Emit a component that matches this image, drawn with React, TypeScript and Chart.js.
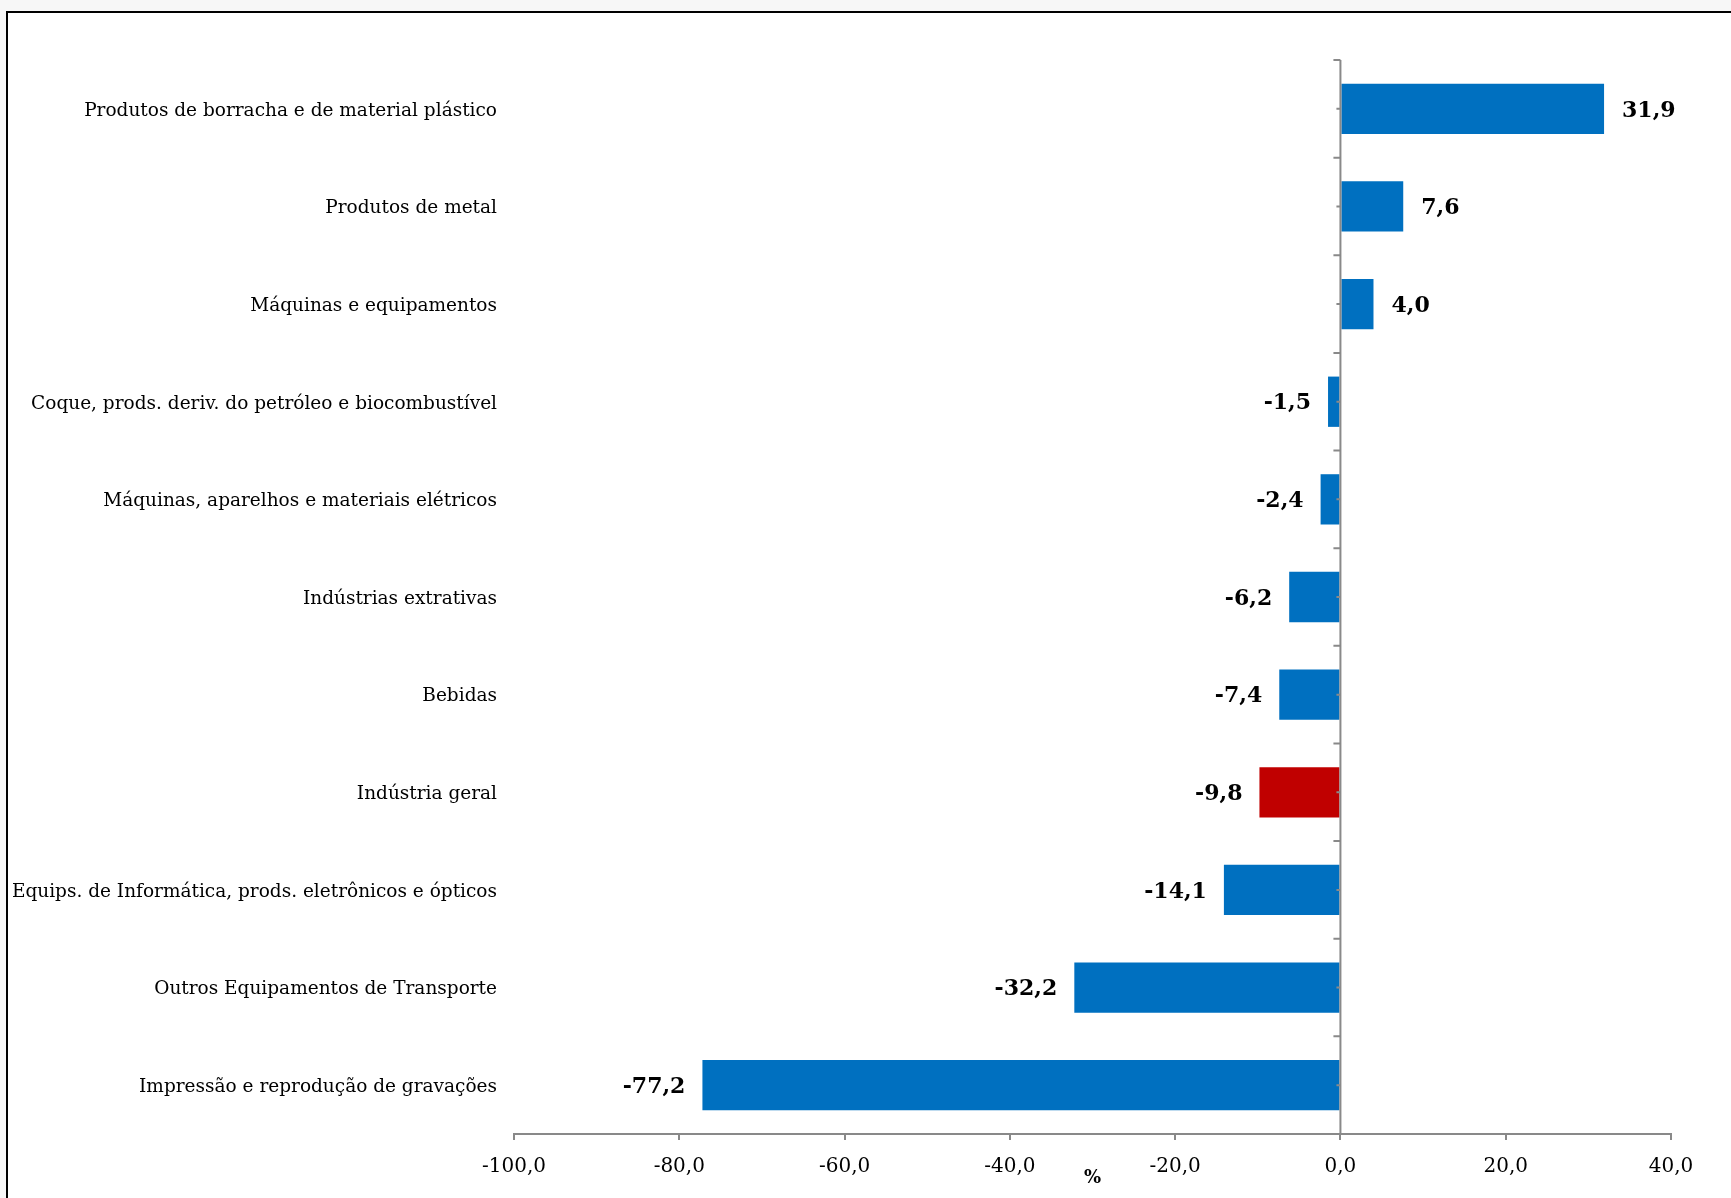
import React, { useEffect, useRef } from "react";
import { Chart, registerables } from "chart.js";

Chart.register(...registerables);

const categories = [
  "Produtos de borracha e de material plástico",
  "Produtos de metal",
  "Máquinas e equipamentos",
  "Coque, prods. deriv. do petróleo e biocombustível",
  "Máquinas, aparelhos e materiais elétricos",
  "Indústrias extrativas",
  "Bebidas",
  "Indústria geral",
  "Equips. de Informática, prods. eletrônicos e ópticos",
  "Outros Equipamentos de Transporte",
  "Impressão e reprodução de gravações",
];

const values = [31.9, 7.6, 4.0, -1.5, -2.4, -6.2, -7.4, -9.8, -14.1, -32.2, -77.2];

const highlighted = ["Indústria geral"];

const xMin = -100;
const xMax = 40;
const xStep = 20;
const axisTitle = "%";

const BLUE = "#0070C0";
const RED = "#C00000";
const GRAY = "#898989";

const fmt = (v: number) => v.toFixed(1).replace(".", ",");

const zeroAxisPlugin = {
  id: "zeroAxis",
  afterDatasetsDraw(chart: any) {
    const { ctx, chartArea, scales } = chart;
    const x0 = scales.x.getPixelForValue(0);
    const y = scales.y;
    ctx.save();
    ctx.strokeStyle = GRAY;
    ctx.lineWidth = 2;
    ctx.beginPath();
    ctx.moveTo(x0, chartArea.top);
    ctx.lineTo(x0, chartArea.bottom);
    ctx.stroke();
    const n = categories.length;
    ctx.beginPath();
    for (let i = 0; i < n; i++) {
      const c = y.getPixelForValue(i);
      const top = i === 0 ? chartArea.top : (y.getPixelForValue(i - 1) + c) / 2;
      ctx.moveTo(x0 - 7, top);
      ctx.lineTo(x0, top);
      ctx.moveTo(x0 - 4, c);
      ctx.lineTo(x0, c);
    }
    ctx.stroke();
    ctx.restore();
  },
};

const valueLabelPlugin = {
  id: "valueLabels",
  afterDatasetsDraw(chart: any) {
    const { ctx } = chart;
    const meta = chart.getDatasetMeta(0);
    ctx.save();
    ctx.font = "bold 22px 'DejaVu Serif'";
    ctx.fillStyle = "#000";
    ctx.textBaseline = "middle";
    meta.data.forEach((bar: any, i: number) => {
      const v = values[i];
      if (v >= 0) {
        ctx.textAlign = "left";
        ctx.fillText(fmt(v), bar.x + 18, bar.y + 2);
      } else {
        ctx.textAlign = "right";
        ctx.fillText(fmt(v), bar.x - 17, bar.y + 2);
      }
    });
    ctx.restore();
  },
};

export default function App() {
  const ref = useRef<HTMLCanvasElement | null>(null);

  useEffect(() => {
    if (!ref.current) return;
    const chart = new Chart(ref.current, {
      type: "bar",
      data: {
        labels: categories,
        datasets: [
          {
            data: values,
            backgroundColor: categories.map((c) => (highlighted.includes(c) ? RED : BLUE)),
            borderWidth: 0,
            categoryPercentage: 1,
            barPercentage: 0.515,
          },
        ],
      },
      options: {
        indexAxis: "y",
        animation: false,
        responsive: false,
        devicePixelRatio: 1,
        layout: { padding: { left: 0, right: 60, top: 60, bottom: 0 } },
        plugins: {
          legend: { display: false },
          tooltip: { enabled: false },
        },
        scales: {
          x: {
            min: xMin,
            max: xMax,
            ticks: {
              stepSize: xStep,
              color: "#000",
              font: { family: "'DejaVu Serif'", size: 20 },
              padding: 15,
              maxRotation: 0,
              callback: (v: any) => fmt(Number(v)),
            },
            grid: {
              drawOnChartArea: false,
              drawTicks: true,
              tickLength: 6,
              color: GRAY,
              lineWidth: 2,
            },
            border: { display: true, color: GRAY, width: 2 },
            title: {
              display: true,
              text: axisTitle,
              color: "#000",
              font: { family: "'DejaVu Serif'", size: 18, weight: "bold" },
              padding: { top: 0, bottom: 9 },
            },
            afterFit: (scale: any) => {
              scale.height = 64;
            },
          },
          y: {
            ticks: {
              color: "#000",
              font: { family: "'DejaVu Serif'", size: 18.5 },
              padding: 9,
              labelOffset: 2,
              autoSkip: false,
            },
            grid: { display: false },
            border: { display: false },
            afterFit: (scale: any) => {
              scale.width = 514;
            },
          },
        },
      },
      plugins: [zeroAxisPlugin, valueLabelPlugin],
    });
    return () => chart.destroy();
  }, []);

  return (
    <div
      style={{
        position: "absolute",
        left: 0,
        top: 0,
        width: 1731,
        height: 1198,
        background: "#f7f7f7",
        overflow: "hidden",
      }}
    >
      <div
        style={{
          position: "absolute",
          left: 6,
          top: 11,
          right: 0,
          bottom: 0,
          borderLeft: "2px solid #000",
          borderTop: "2px solid #000",
          background: "#fff",
        }}
      />
      <canvas
        ref={ref}
        width={1731}
        height={1198}
        style={{ position: "absolute", left: 0, top: 0, width: 1731, height: 1198 }}
      />
    </div>
  );
}
